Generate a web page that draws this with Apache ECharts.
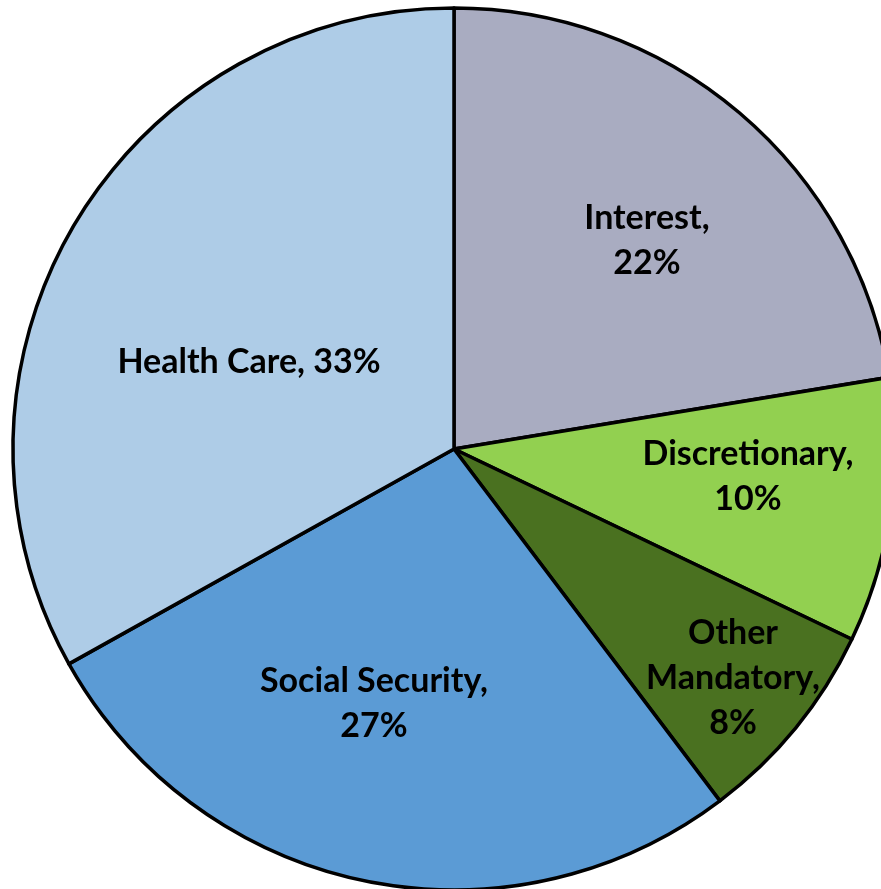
<!DOCTYPE html>
<html><head><meta charset="utf-8">
<script src="https://cdn.jsdelivr.net/npm/echarts@6/dist/echarts.min.js"></script>
<style>html,body{margin:0;padding:0;background:#fff}#c{width:881px;height:889px}</style>
</head><body><div id="c"></div>
<script>
const categories = ['Interest', 'Discretionary', 'Other Mandatory', 'Social Security', 'Health Care'];
const values = [22.4, 9.7, 7.6, 27.2, 33.1];
const labelTexts = ['Interest,\n22%', 'Discretionary,\n10%', 'Other\nMandatory,\n8%', 'Social Security,\n27%', 'Health Care, 33%'];

const colors = ['#A9ACC1', '#92D050', '#4A7120', '#5B9BD5', '#AECCE7'];
const labelPos = [[647, 241], [748, 477], [733, 678], [374, 704], [249, 362]];

const chart = echarts.init(document.getElementById('c'));
chart.setOption({
  animation: false,
  series: [{
    type: 'pie',
    center: [454, 449],
    radius: 441,
    startAngle: 90,
    clockwise: true,
    avoidLabelOverlap: false,
    itemStyle: { borderColor: '#000', borderWidth: 3.5 },
    label: {
      show: true,
      position: 'inside',
      color: '#000',
      fontFamily: 'Lato',
      fontWeight: 'bold',
      fontSize: 34,
      lineHeight: 45,
      align: 'center',
      formatter: p => labelTexts[p.dataIndex]
    },
    labelLayout: p => ({ x: labelPos[p.dataIndex][0], y: labelPos[p.dataIndex][1], align: 'center', verticalAlign: 'middle' }),
    emphasis: { disabled: true },
    data: categories.map((c, i) => ({ name: c, value: values[i], itemStyle: { color: colors[i] } }))
  }]
});
</script></body></html>
